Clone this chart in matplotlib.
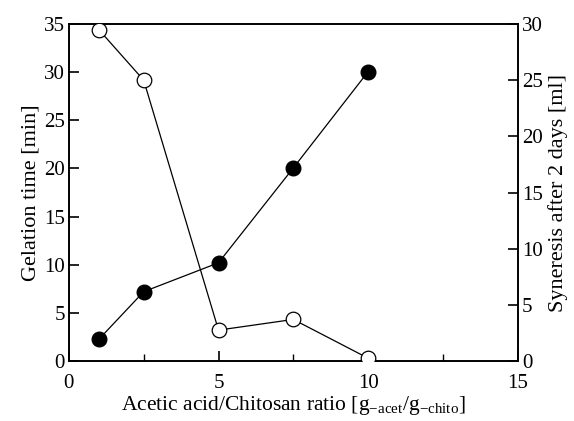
import matplotlib
matplotlib.use("Agg")
import matplotlib.pyplot as plt
from matplotlib.ticker import MultipleLocator

plt.rcParams['font.family'] = ['Liberation Serif', 'DejaVu Serif']
plt.rcParams['mathtext.fontset'] = 'custom'
plt.rcParams['mathtext.rm'] = 'Liberation Serif'
plt.rcParams['mathtext.it'] = 'Liberation Serif:italic'

# ratio acetic acid / chitosan
ratio = [1, 2.5, 5, 7.5, 10]
# gelation time [min] (filled circles, left axis)
gel_time = [2.25, 7.2, 10.2, 20.05, 30.05]
# syneresis after 2 days [ml] (open circles, right axis)
syneresis = [29.5, 25.0, 2.75, 3.7, 0.25]

fig = plt.figure(figsize=(5.74, 4.21), dpi=100)
ax = fig.add_axes([0.120, 0.1425, 0.782, 0.8005])
ax2 = ax.twinx()

ax.plot(ratio, gel_time, '-o', color='black', lw=0.9, ms=10.5,
        mfc='black', mec='black', zorder=3)
ax2.plot(ratio, syneresis, '-o', color='black', lw=0.9, ms=10.5,
         mfc='white', mec='black', mew=0.9, zorder=3)

ax.set_xlim(0, 15)
ax.set_ylim(0, 35)
ax2.set_ylim(0, 30)
ax.xaxis.set_major_locator(MultipleLocator(5))
ax.xaxis.set_minor_locator(MultipleLocator(2.5))
ax.yaxis.set_major_locator(MultipleLocator(5))
ax2.yaxis.set_major_locator(MultipleLocator(5))

for a in (ax, ax2):
    a.tick_params(direction='in', labelsize=15, length=7, width=1.2)
    a.tick_params(which='minor', direction='in', length=5, width=1)
    for s in a.spines.values():
        s.set_linewidth(1.2)
ax.tick_params(axis='x', pad=9)
ax.tick_params(axis='y', pad=3)
ax2.tick_params(axis='y', pad=3)

ax.set_xlabel('Acetic acid/Chitosan ratio [g$_{\\mathrm{\u2212acet}}$/g$_{\\mathrm{\u2212chito}}$]',
              fontsize=15.5, labelpad=1)
ax.set_ylabel('Gelation time [min]', fontsize=16, labelpad=2)
ax2.set_ylabel('Syneresis after 2 days [ml]', fontsize=16, labelpad=4)

fig.savefig('out.png', dpi=100)
